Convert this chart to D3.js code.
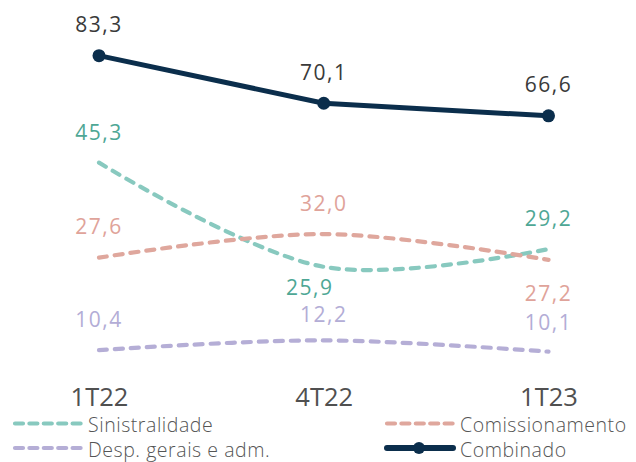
<!DOCTYPE html>
<html>
<head>
<meta charset="utf-8">
<script src="https://cdn.jsdelivr.net/npm/d3@7"></script>
<style>
  html, body { margin: 0; padding: 0; background: #fff; }
  svg { display: block; }
  text { font-family: "Open Sans", sans-serif; }
</style>
</head>
<body>
<svg id="chart" width="636" height="462"></svg>
<script>
// ---- data ----
const categories = ["1T22", "4T22", "1T23"];
const sinistralidade = [45.3, 25.9, 29.2];
const comissionamento = [27.6, 32.0, 27.2];
const despesas = [10.4, 12.2, 10.1];
const combinado = [83.3, 70.1, 66.6];
const seriesNames = ["Sinistralidade", "Comissionamento", "Desp. gerais e adm.", "Combinado"];

// ---- layout / style ----
const svg = d3.select("#chart");

const x = d3.scalePoint().domain(categories).range([99, 548.5]);
const yPrimary = d3.scaleLinear().domain([0, 50]).range([405.9, 137.4]);
const ySecondary = d3.scaleLinear().domain([0, 90]).range([356.0, 31.5]);

const fmt = v => d3.format(".1f")(v).replace(".", ",");

const series = [
  { name: seriesNames[0], values: sinistralidade, y: yPrimary, line: "#88c9bf", label: "#4ea795", dashed: true,
    off: [[0, -23], [-14, 28], [0, -23]] },
  { name: seriesNames[1], values: comissionamento, y: yPrimary, line: "#dfa79d", label: "#dfa39a", dashed: true,
    off: [[0, -24], [0, -23], [0, 41]] },
  { name: seriesNames[2], values: despesas, y: yPrimary, line: "#b5aed6", label: "#b3add6", dashed: true,
    off: [[0, -23], [0, -18], [0, -22]] },
  { name: seriesNames[3], values: combinado, y: ySecondary, line: "#0b2e4c", label: "#3a3a3a", dashed: false,
    off: [[0, -24], [0, -23], [0, -24]] }
];

// lines
series.forEach(s => {
  const pts = s.values.map((v, i) => [x(categories[i]), s.y(v)]);
  const gen = d3.line().curve(s.dashed ? d3.curveCatmullRom.alpha(0.5) : d3.curveLinear);
  svg.append("path")
    .attr("d", gen(pts))
    .attr("fill", "none")
    .attr("stroke", s.line)
    .attr("stroke-width", s.dashed ? 4.2 : 5)
    .attr("stroke-linecap", "round")
    .attr("stroke-linejoin", "round")
    .attr("stroke-dasharray", s.dashed ? "8,8" : null);
  if (!s.dashed) {
    svg.selectAll(null).data(pts).enter().append("circle")
      .attr("cx", d => d[0]).attr("cy", d => d[1]).attr("r", 6.5)
      .attr("fill", s.line);
  }
});

// value labels
series.forEach(s => {
  svg.selectAll(null).data(s.values).enter().append("text")
    .attr("x", (v, i) => x(categories[i]) + s.off[i][0])
    .attr("y", (v, i) => s.y(v) + s.off[i][1])
    .attr("text-anchor", "middle")
    .attr("font-size", 21)
    .attr("letter-spacing", 1.5)
    .attr("fill", s.label)
    .text(v => fmt(v));
});

// category axis
const xAxis = d3.axisBottom(x).tickSize(0).tickPadding(0);
const gx = svg.append("g").attr("transform", "translate(0,388)").call(xAxis);
gx.select(".domain").remove();
gx.selectAll("text")
  .attr("dy", null)
  .attr("y", 18)
  .attr("font-size", 25.5)
  .attr("font-family", "Open Sans, sans-serif")
  .attr("fill", "#505050");

// legend
const legendItems = [
  { s: series[0], lx: 13, ly: 423.5 },
  { s: series[1], lx: 385, ly: 423.5 },
  { s: series[2], lx: 13, ly: 448 },
  { s: series[3], lx: 385, ly: 448 }
];
legendItems.forEach(it => {
  const g = svg.append("g");
  g.append("line")
    .attr("x1", it.lx + 2).attr("x2", it.lx + 68)
    .attr("y1", it.ly).attr("y2", it.ly)
    .attr("stroke", it.s.line)
    .attr("stroke-width", it.s.dashed ? 4.2 : 6)
    .attr("stroke-linecap", "round")
    .attr("stroke-dasharray", it.s.dashed ? "8,6.4" : null);
  if (!it.s.dashed) {
    g.append("circle").attr("cx", it.lx + 34).attr("cy", it.ly).attr("r", 6).attr("fill", it.s.line);
  }
  g.append("text")
    .attr("x", it.lx + 75)
    .attr("y", it.ly + 8.5)
    .attr("font-size", 19.5)
    .attr("font-weight", 300)
    .attr("letter-spacing", 0.55)
    .attr("fill", "#555")
    .text(it.s.name);
});
</script>
</body>
</html>
